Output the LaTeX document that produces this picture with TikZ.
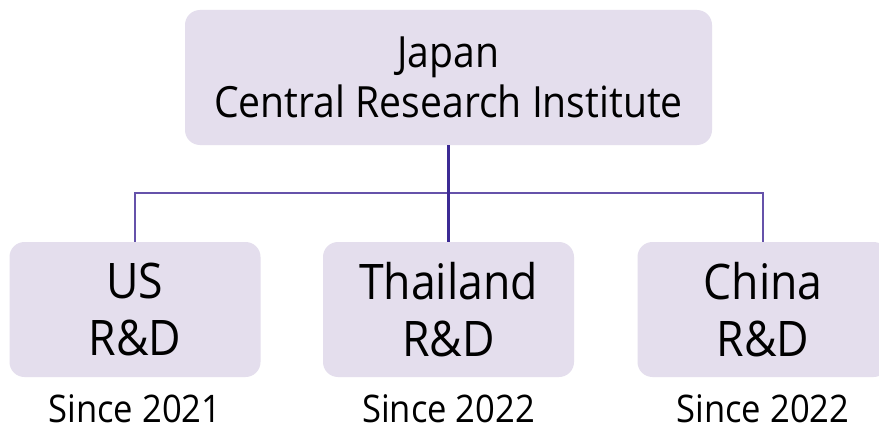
\documentclass[tikz,border=0pt]{standalone}
\usepackage{fontspec}
\setmainfont{Open Sans}[FakeStretch=0.91]
\definecolor{boxfill}{HTML}{E4DEED}
\definecolor{linedark}{HTML}{3C2A94}
\definecolor{linemid}{HTML}{6552AA}
\begin{document}
\begin{tikzpicture}[x=1pt,y=-1pt,
  orgbox/.style={fill=boxfill,draw=none,rounded corners=15pt,inner sep=0pt,align=center,text=black},
  topbox/.style={orgbox,minimum width=527pt,minimum height=135pt,font=\fontsize{43}{50}\selectfont},
  subbox/.style={orgbox,minimum width=251pt,minimum height=135pt,font=\fontsize{49}{57}\selectfont},
  since/.style={inner sep=0pt,font=\fontsize{38}{44}\selectfont,text=black},
  mainline/.style={draw=linedark,line width=2.6pt},
  branch/.style={draw=linemid,line width=1.6pt}]
\clip (0,0) rectangle (879,428);
\fill[white] (0,0) rectangle (879,428);
\node[topbox] (top) at (448.5,77.5) {Japan\\Central Research Institute};
\node[subbox] (us) at (135,309.5) {US\\R\&D};
\node[subbox] (thai) at (448.5,309.5) {Thailand\\R\&D};
\node[subbox] (china) at (763,309.5) {China\\R\&D};
\node[since] (sus) at (135,409) {Since 2021};
\node[since] (sthai) at (448.5,409) {Since 2022};
\node[since] (schina) at (763,409) {Since 2022};
\coordinate (j) at (448.5,193);
\draw[branch] (us.north) |- (j) -| (china.north);
\draw[mainline] (top.south) -- (thai.north);
\end{tikzpicture}
\end{document}
